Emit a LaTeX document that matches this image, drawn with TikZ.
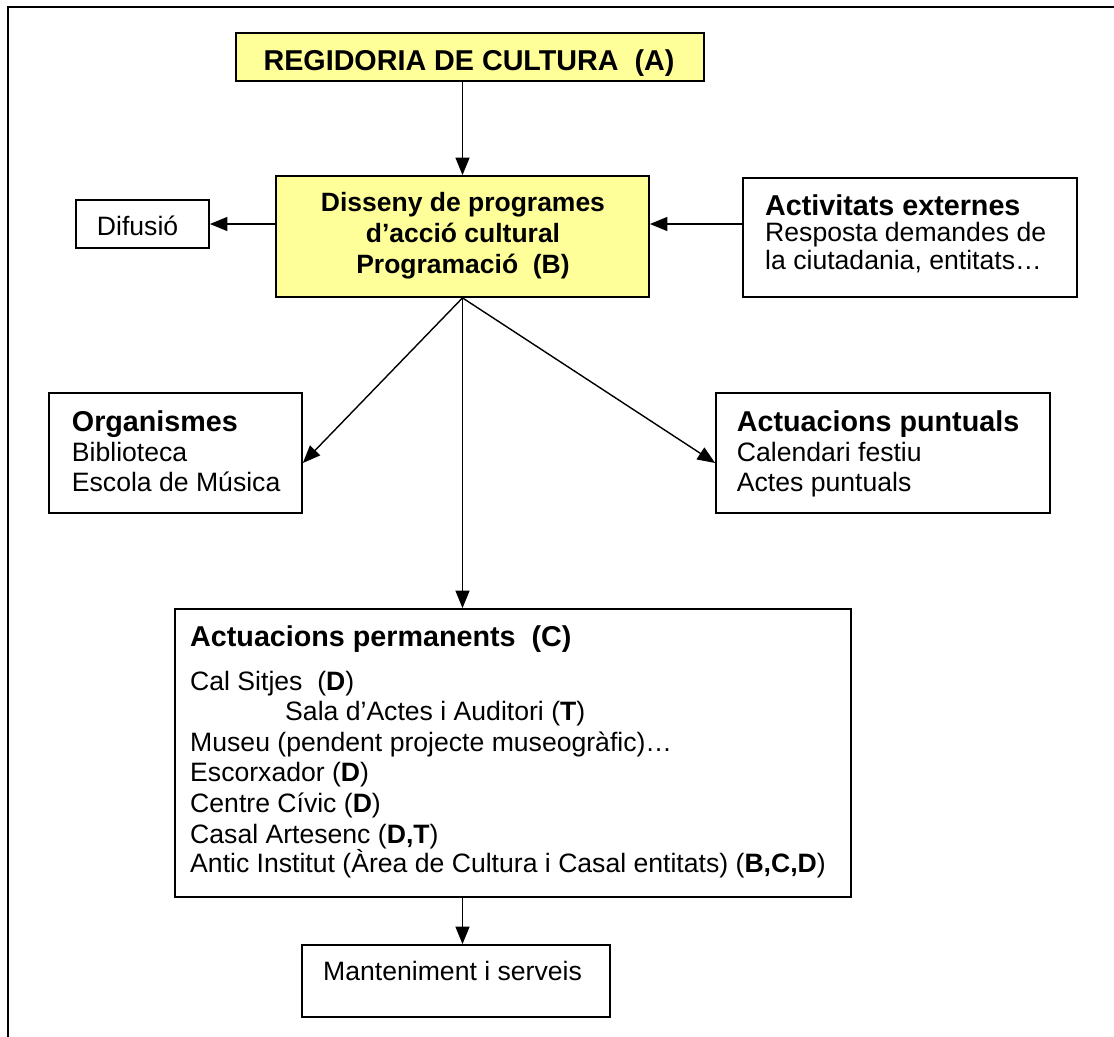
\documentclass[tikz,border=0pt]{standalone}
\usepackage{fontspec}
\setmainfont{Liberation Sans}
\usetikzlibrary{arrows.meta,fit,calc}
\definecolor{boxyellow}{HTML}{FFFF99}

\tikzset{
  box/.style={draw, line width=1.5pt, inner sep=0pt},
  ybox/.style={box, fill=boxyellow},
  arr/.style={line width=1.2pt, -{Triangle[length=15pt,width=12pt]}},
  txt/.style={anchor=base west, inner sep=0pt, font=\fontsize{22.7}{27}\selectfont},
  hd/.style={txt, font=\bfseries\fontsize{24.5}{29}\selectfont},
}

\begin{document}
\begin{tikzpicture}[x=0.03cm, y=-0.03cm]
    \useasboundingbox (0,0) rectangle (1114,1037);
    \draw [line width=1.8pt] (8,1037) -- (8,7) -- (1114,7);

    % boxes
    \node [ybox, fit={(236,33) (704,81)}] (regA) {};
    \node [ybox, fit={(276,176) (649,297)}] (regB) {};
    \node [box, fit={(76,200) (209,248)}] (difu) {};
    \node [box, fit={(743,178) (1077,297)}] (ext) {};
    \node [box, fit={(49,393) (302,513)}] (org) {};
    \node [box, fit={(716,393) (1050,513)}] (punt) {};
    \node [box, fit={(175,609) (851,897)}] (perm) {};
    \node [box, fit={(302,945) (610,1017)}] (mant) {};

    % texts
    \node [hd, anchor=base] (tA) at (469,71) {REGIDORIA DE CULTURA\ \ (A)};
    \node [txt, anchor=base, font=\bfseries\fontsize{22.6}{27}\selectfont] (tB1) at (463,211.7) {Disseny de programes};
    \node [txt, anchor=base, font=\bfseries\fontsize{22.6}{27}\selectfont] (tB2) at (463,242.3) {d’acció cultural};
    \node [txt, anchor=base, font=\bfseries\fontsize{22.6}{27}\selectfont] (tB3) at (463,273.3) {Programació\ \ (B)};
    \node [txt] (tdifu) at (96.7,235) {Difusió};
    \node [hd] (text1) at (765,215) {Activitats externes};
    \node [txt] (text2) at (765,241.7) {Resposta demandes de};
    \node [txt] (text3) at (765,269.3) {la ciutadania, entitats…};
    \node [hd] (torg1) at (71.7,431.7) {Organismes};
    \node [txt] (torg2) at (71.7,461.7) {Biblioteca};
    \node [txt] (torg3) at (71.7,491.7) {Escola de Música};
    \node [hd] (tpunt1) at (736.7,431.7) {Actuacions puntuals};
    \node [txt] (tpunt2) at (736.7,461.7) {Calendari festiu};
    \node [txt] (tpunt3) at (736.7,491.7) {Actes puntuals};
    \node [hd] (tperm) at (190,646.7) {Actuacions permanents\ \ (C)};
    \node [txt] (tperm1) at (190,690.7) {Cal Sitjes\ \ (\textbf{D})};
    \node [txt] (tperm2) at (285,720.7) {Sala d’Actes i Auditori (\textbf{T})};
    \node [txt] (tperm3) at (190,751.7) {Museu (pendent projecte museogràfic)…};
    \node [txt] (tperm4) at (190,781.7) {Escorxador (\textbf{D})};
    \node [txt] (tperm5) at (190,812.7) {Centre Cívic (\textbf{D})};
    \node [txt] (tperm6) at (190,843.3) {Casal Artesenc (\textbf{D,T})};
    \node [txt] (tperm7) at (190,872.7) {Antic Institut (Àrea de Cultura i Casal entitats) (\textbf{B,C,D})};
    \node [txt] (tmant) at (323,980) {Manteniment i serveis};

    % connectors
    \draw [arr] (regA.south -| regB.north) -- (regB.north);
    \draw [arr] (regB.west |- difu.east) -- (difu.east);
    \draw [arr] (ext.west |- difu.east) -- (regB.east |- difu.east);
    \draw [arr] (regB.south) -- ($(org.east)+(0,10)$);
    \draw [arr] (regB.south) -- ($(punt.west)+(0,10)$);
    \draw [arr] (regB.south) -- (regB.south |- perm.north);
    \draw [arr] (perm.south -| regB.south) -- (mant.north -| regB.south);
\end{tikzpicture}
\end{document}
